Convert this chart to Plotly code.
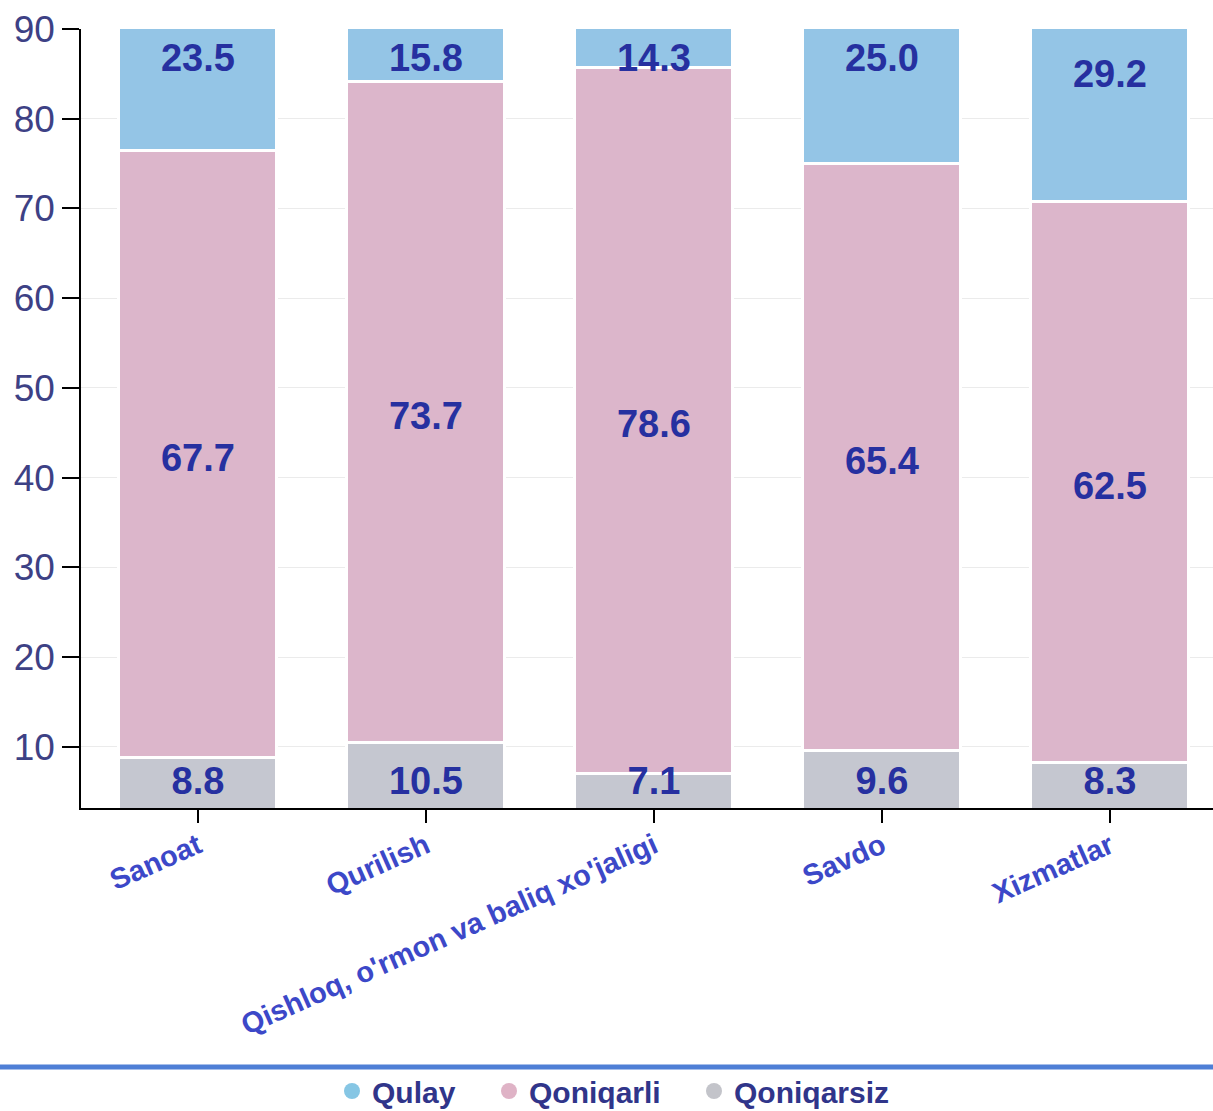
import plotly.graph_objects as go

categories = ["Sanoat", "Qurilish", "Qishloq, o'rmon va baliq xo'jaligi", "Savdo", "Xizmatlar"]
qoniqarsiz = [8.8, 10.5, 7.1, 9.6, 8.3]
qoniqarli = [67.7, 73.7, 78.6, 65.4, 62.5]
qulay = [23.5, 15.8, 14.3, 25.0, 29.2]
series_names = ["Qulay", "Qoniqarli", "Qoniqarsiz"]
y_tick_values = [10, 20, 30, 40, 50, 60, 70, 80, 90]

colors = {"Qulay": "#94c5e6", "Qoniqarli": "#dcb6cb", "Qoniqarsiz": "#c5c7d0"}
legend_colors = {"Qulay": "#86c6e4", "Qoniqarli": "#dfb3c6", "Qoniqarsiz": "#c3c4ca"}

Y_MIN, Y_MAX = 3.2, 90
FONT = "Liberation Sans, Arial, sans-serif"

W, H = 1213, 1111
L, T, B = 81, 29, 303
PW, PH = W - L, H - T - B

fig = go.Figure()

stack = [("Qoniqarsiz", qoniqarsiz), ("Qoniqarli", qoniqarli), ("Qulay", qulay)]
for name, vals in stack:
    fig.add_trace(go.Bar(
        x=categories, y=vals, name=name,
        marker=dict(color=colors[name], line=dict(color="white", width=3)),
        showlegend=False, hoverinfo="skip",
    ))

# label positions from data (centre of segment, kept within visible plot)
LABEL_DROP, LABEL_LO, LABEL_HI = 0.85, 5.85, 86.4
lab_x, lab_y, lab_t = [], [], []
base = [0.0] * len(categories)
for name, vals in stack:
    for i, v in enumerate(vals):
        mid = base[i] + v / 2
        y = min(max(mid - LABEL_DROP, LABEL_LO), LABEL_HI)
        lab_x.append(categories[i])
        lab_y.append(y)
        lab_t.append(f"{v:.1f}")
        base[i] += v

fig.add_trace(go.Scatter(
    x=lab_x, y=lab_y, text=lab_t, mode="text",
    textfont=dict(family=FONT, size=38, color="#2630a0", weight="bold"),
    showlegend=False, hoverinfo="skip",
))

legend_circle_px = [352, 509, 714]
for k, name in enumerate(series_names):
    lg = "legend" if k == 0 else f"legend{k + 1}"
    fig.add_trace(go.Scatter(
        x=[None], y=[None], mode="markers", name=name, legend=lg,
        marker=dict(symbol="circle", size=20, color=legend_colors[name]),
    ))

legend_common = dict(
    orientation="h", xanchor="left", yanchor="middle",
    yref="container", y=1 - 1091 / H,
    xref="container",
    font=dict(family=FONT, size=30, color="#30358a", weight="bold"),
    itemsizing="trace", bgcolor="rgba(0,0,0,0)",
)
legends = {}
for k in range(3):
    key = "legend" if k == 0 else f"legend{k + 1}"
    legends[key] = dict(legend_common, x=(legend_circle_px[k] - 20) / W)

line_y = -(1067 - (T + PH)) / PH
fig.update_layout(
    width=W, height=H,
    margin=dict(l=L, r=0, t=T, b=B),
    barmode="stack", bargap=0.307,
    paper_bgcolor="white", plot_bgcolor="white",
    font=dict(family=FONT),
    xaxis=dict(
        type="category", range=[-0.513, 4.452],
        showline=True, linecolor="black", linewidth=1.5,
        ticks="outside", ticklen=13, tickcolor="black", tickwidth=1.5,
        tickangle=-24, ticklabelstandoff=-5,
        tickfont=dict(family=FONT, size=29, color="#3c48c8", weight="bold"),
        showgrid=False,
    ),
    yaxis=dict(
        range=[Y_MIN, Y_MAX], tickvals=y_tick_values,
        showline=True, linecolor="black", linewidth=1.5,
        ticks="outside", ticklen=17, tickcolor="black", tickwidth=1.5,
        tickfont=dict(family=FONT, size=37, color="#3d4185"),
        showgrid=True, gridcolor="#ebebeb", gridwidth=1,
        zeroline=False,
    ),
    shapes=[dict(
        type="line", xref="paper", yref="paper",
        x0=-L / PW, x1=1,
        y0=line_y, y1=line_y,
        line=dict(color="#4f7fd6", width=5),
    )],
    **legends,
)

fig.write_html(
    "out.html",
    config={"displayModeBar": False},
    post_script="document.body.style.margin='0';document.body.style.overflow='hidden';",
)
